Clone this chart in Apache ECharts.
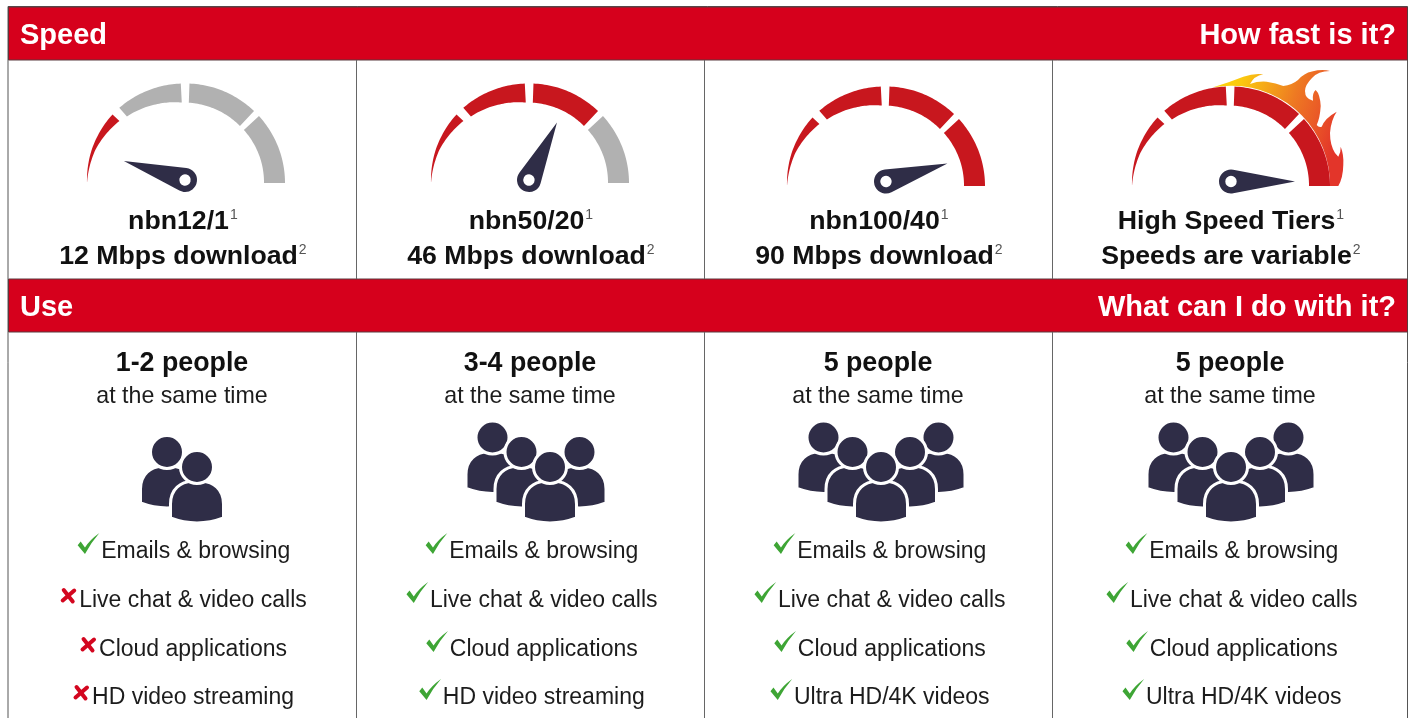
<!DOCTYPE html>
<html>
<head>
<meta charset="utf-8">
<style>html,body{margin:0;padding:0;background:#fff}#c{width:1410px;height:718px}</style>
<script src="https://cdn.jsdelivr.net/npm/echarts@6/dist/echarts.min.js"></script>
</head>
<body>
<div id="c"></div>
<script>
// ---------- data ----------
const plans = ['nbn12/1', 'nbn50/20', 'nbn100/40', 'High Speed Tiers'];
const speeds = ['12 Mbps download', '46 Mbps download', '90 Mbps download', 'Speeds are variable'];
const dialReadings = [9.6, 64.4, 90.9, 100];
const litSegments = [1, 3, 4, 4];
const people = ['1-2 people', '3-4 people', '5 people', '5 people'];
const peopleIcons = [2, 4, 5, 5];
const sameTime = 'at the same time';
const uses = [
  ['Emails & browsing', 'Live chat & video calls', 'Cloud applications', 'HD video streaming'],
  ['Emails & browsing', 'Live chat & video calls', 'Cloud applications', 'HD video streaming'],
  ['Emails & browsing', 'Live chat & video calls', 'Cloud applications', 'Ultra HD/4K videos'],
  ['Emails & browsing', 'Live chat & video calls', 'Cloud applications', 'Ultra HD/4K videos']
];
const supported = [
  [true, false, false, false],
  [true, true, true, true],
  [true, true, true, true],
  [true, true, true, true]
];
const headers = [['Speed', 'How fast is it?'], ['Use', 'What can I do with it?']];
const dialSegments = [[180, 137], [131.6, 93], [88, 46.6], [42.5, 0]];

// ---------- layout ----------
const FONT = '"Liberation Sans", Arial, Helvetica, sans-serif';
const RED = '#d6001c', ARC = '#c8171e', GREY = '#b1b1b1', NAVY = '#2f2d47', INK = '#1c1c1c';
const colCentres = [182, 530, 878, 1230];
const dialCentres = [[186, 183], [530, 183], [886, 186], [1231, 186]];
const hubCentres = [[185, 180], [529, 180], [886, 181.5], [1231, 181.5]];
// dial outline: [angle, outer radius, band thickness]
const dialProfile = [[180, 99, 0], [160, 100, 3.5], [137, 100.5, 9.5], [131.6, 100.5, 11.5], [110, 100, 16], [93, 99.6, 19], [46, 99, 20.5], [0, 99, 21]];
function profile(a) {
  for (let i = 1; i < dialProfile.length; i++) {
    const p = dialProfile[i - 1], q = dialProfile[i];
    if (a >= q[0]) {
      const f = (p[0] - a) / (p[0] - q[0]);
      return [p[1] + (q[1] - p[1]) * f, p[2] + (q[2] - p[2]) * f];
    }
  }
  return [99, 21];
}

const ctx = document.createElement('canvas').getContext('2d');
function widthOf(t, font) { ctx.font = font; return ctx.measureText(t).width; }

let pathCount = 0;
function pathShape(d) {
  const name = 'svgPath' + (pathCount++);
  echarts.graphic.registerShape(name, echarts.graphic.extendPath(d, {}));
  return name;
}

const g = [];
function text(x, y, t, size, opt) {
  opt = opt || {};
  g.push({
    type: 'text', x: x, y: y + 2, silent: true,
    style: {
      text: t, fill: opt.fill || INK, font: (opt.bold ? 'bold ' : '') + size + 'px ' + FONT,
      textAlign: opt.align || 'center', textVerticalAlign: 'middle'
    }
  });
}
function supText(cx, y, main, sup, size) {
  const w = widthOf(main, 'bold ' + size + 'px ' + FONT);
  const left = cx - (w + 9) / 2;
  text(left, y, main, size, { bold: true, align: 'left', fill: '#111' });
  text(left + w + 1, y - 7, sup, 14, { align: 'left', fill: '#555' });
}

// frame and bands
g.push({ type: 'rect', shape: { x: 8, y: 6.5, width: 1399.5, height: 720 }, style: { fill: '#fff', stroke: '#555', lineWidth: 1 } });
[[7, 53], [279, 53]].forEach(function (b) {
  g.push({ type: 'rect', shape: { x: 8.5, y: b[0], width: 1399, height: b[1] }, style: { fill: RED, stroke: '#5a3a3e', lineWidth: 1 } });
});
[356.5, 704.5, 1052.5].forEach(function (x) {
  [[60, 279], [332, 718]].forEach(function (s) {
    g.push({ type: 'line', shape: { x1: x, y1: s[0], x2: x, y2: s[1] }, style: { stroke: '#666', lineWidth: 1 } });
  });
});
headers.forEach(function (h, i) {
  const y = i === 0 ? 34 : 306;
  text(20, y, h[0], 29, { bold: true, align: 'left', fill: '#fff' });
  text(1396, y, h[1], 29, { bold: true, align: 'right', fill: '#fff' });
});

// flame behind the fourth dial
g.push({
  type: pathShape('M1213.3 87.3 Q1230 82 1243.3 76.7 Q1254 73 1263.3 74.3 Q1254 76 1250 84 Q1258 81 1266.7 81.7 Q1276 83 1283.3 86 Q1292 85 1298 80 Q1304 73 1312 71.5 Q1322 69 1330 71 Q1318 71 1312 78 Q1305 85 1305 91 Q1305 99 1313 100.7 Q1312 93 1315.7 90 Q1320 94 1320.7 106 Q1320 118 1316.7 125 Q1319 128 1321.7 126.7 Q1325 118 1336.7 111.7 Q1331 120 1330 133 Q1330 145 1335 153 L1338.3 156.7 Q1341 152 1340.7 146.7 Q1344 155 1343.3 165 Q1343 178 1338.3 186 L1330 186 A99 99 0 0 0 1213.3 87.3 Z'),
  style: {
    fill: new echarts.graphic.LinearGradient(0, 0.05, 1, 0.45, [
      { offset: 0, color: '#ffd60a' }, { offset: 0.2, color: '#fbc90f' }, { offset: 0.38, color: '#f5a818' },
      { offset: 0.6, color: '#ee7a22' }, { offset: 0.8, color: '#ea5a27' }, { offset: 1, color: '#e3352a' }
    ])
  }
});

// texts under the dials
plans.forEach(function (p, i) {
  supText(colCentres[i] + 1, 220, p, '1', 26.7);
  supText(colCentres[i] + 1, 255, speeds[i], '2', 26.7);
  text(colCentres[i], 362, people[i], 26.8, { bold: true, fill: '#111' });
  text(colCentres[i], 395, sameTime, 23.2);
});

// people icons
function person(cx, cy) {
  const body = 'M' + (cx - 26.5) + ' ' + (cy + 51) + ' L' + (cx - 26.5) + ' ' + (cy + 37) +
    ' C' + (cx - 26.5) + ' ' + (cy + 22) + ' ' + (cx - 16) + ' ' + (cy + 14.5) + ' ' + (cx - 5) + ' ' + (cy + 14.5) +
    ' L' + (cx + 5) + ' ' + (cy + 14.5) +
    ' C' + (cx + 16) + ' ' + (cy + 14.5) + ' ' + (cx + 26.5) + ' ' + (cy + 22) + ' ' + (cx + 26.5) + ' ' + (cy + 37) +
    ' L' + (cx + 26.5) + ' ' + (cy + 51) + ' Q' + cx + ' ' + (cy + 61) + ' ' + (cx - 26.5) + ' ' + (cy + 51) + ' Z';
  g.push({ type: pathShape(body), style: { fill: NAVY, stroke: '#fff', lineWidth: 3 } });
  g.push({ type: 'circle', shape: { cx: cx, cy: cy, r: 16.5 }, style: { fill: NAVY, stroke: '#fff', lineWidth: 3 } });
}
const crowdLayouts = {
  2: [[-30, -15], [0, 0]],
  4: [[-57.5, -29.5], [-28.5, -15], [29.5, -15], [0, 0]],
  5: [[-57.5, -29.5], [57.5, -29.5], [-28.5, -15], [29, -15], [0, 0]]
};
const crowdCentres = [197, 550, 881, 1231];
peopleIcons.forEach(function (n, i) {
  crowdLayouts[n].forEach(function (o) { person(crowdCentres[i] + o[0], 467 + o[1]); });
});

// feature lists
const CHECK = pathShape('M0 12.3 L7.3 21 Q13 10 21.7 0 Q12 7 7.3 14.5 L3 8.5 Z');
const CROSS = pathShape('M1.5 12.5 L13 2.5 M2.5 2 L11.5 13.5');
const rowY = [550, 599, 648, 696];
const ITEM = 23;
uses.forEach(function (col, c) {
  col.forEach(function (t, r) {
    const y = rowY[r], ok = supported[c][r];
    const mw = ok ? 23.5 : 18;
    const w = widthOf(t, ITEM + 'px ' + FONT);
    const left = colCentres[c] + 2 - (w + mw) / 2;
    text(left + mw, y, t, ITEM, { align: 'left' });
    if (ok) {
      g.push({ type: CHECK, x: left, y: y - 17, style: { fill: '#3ea535' } });
    } else {
      g.push({ type: CROSS, x: left, y: y - 11, style: { fill: 'none', stroke: '#d3061f', lineWidth: 4, lineCap: 'round' } });
    }
  });
});

// dial arcs, one custom item per segment
const segmentData = [];
dialCentres.forEach(function (_, d) {
  dialSegments.forEach(function (s, k) {
    segmentData.push([d, s[0], s[1], k < litSegments[d] ? 1 : 0]);
  });
});
function renderSegment(params, api) {
  const c = dialCentres[api.value(0)], a0 = api.value(1), a1 = api.value(2);
  const outer = [], inner = [];
  const STEPS = 32;
  for (let i = 0; i <= STEPS; i++) {
    const deg = a0 + (a1 - a0) * i / STEPS;
    const a = deg * Math.PI / 180;
    const dx = Math.cos(a), dy = -Math.sin(a);
    const p = profile(deg);
    outer.push([c[0] + p[0] * dx, c[1] + p[0] * dy]);
    inner.unshift([c[0] + (p[0] - p[1]) * dx, c[1] + (p[0] - p[1]) * dy]);
  }
  return { type: 'polygon', shape: { points: outer.concat(inner) }, style: { fill: api.value(3) ? ARC : GREY } };
}

// needle: tip at top, hub at bottom, with a hole
const NEEDLE = 'path://M12 0 L23.79 61.75 A12 12 0 1 1 0.21 61.75 Z M12 58.3 A5.7 5.7 0 1 0 12 69.7 A5.7 5.7 0 1 0 12 58.3 Z';
const gauges = dialReadings.map(function (v, i) {
  return {
    type: 'gauge', center: hubCentres[i], radius: 64, startAngle: 180, endAngle: 0, min: 0, max: 100,
    animation: false, silent: true, z: 5,
    axisLine: { show: false }, axisTick: { show: false }, splitLine: { show: false }, axisLabel: { show: false },
    title: { show: false }, detail: { show: false }, anchor: { show: false }, progress: { show: false },
    pointer: { show: true, icon: NEEDLE, length: 76, width: 24, offsetCenter: [0, 12], keepAspect: false },
    itemStyle: { color: NAVY },
    data: [{ value: v, name: plans[i] }]
  };
});

const chart = echarts.init(document.getElementById('c'), null, { renderer: 'canvas', width: 1410, height: 718 });
chart.setOption({
  animation: false,
  backgroundColor: '#fff',
  graphic: { elements: g },
  series: [{
    type: 'custom', coordinateSystem: 'none', silent: true, z: 3, renderItem: renderSegment,
    encode: { value: [0, 1, 2, 3] }, data: segmentData
  }].concat(gauges)
});
</script>
</body>
</html>
